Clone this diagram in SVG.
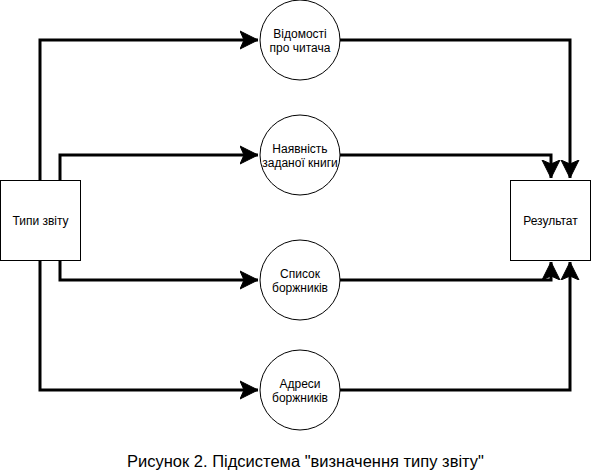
<svg xmlns="http://www.w3.org/2000/svg" width="591" height="471" viewBox="0 0 591 471">
<style>
.n{fill:#fff;stroke:#000;stroke-width:1}
.t{font-family:"Liberation Sans",Arial,sans-serif;font-size:12px;fill:#000;text-anchor:middle}
.c{fill:none;stroke:#000;stroke-width:3;stroke-linejoin:miter}
.cap{font-family:"Liberation Sans",Arial,sans-serif;font-size:16.5px;fill:#000;text-anchor:middle}
</style>
<defs>
<marker id="a" markerUnits="userSpaceOnUse" markerWidth="20" markerHeight="20" viewBox="0 0 20 20" refX="18" refY="10" orient="auto">
<path d="M0,1 L18,10 L0,19 L4,10 Z" fill="#000" stroke="#000" stroke-width="1"/>
</marker>
</defs>
<rect width="591" height="471" fill="#fff"/>
<g id="connectors">
<path class="c" d="M40,180 V40 H258" marker-end="url(#a)"/>
<path class="c" d="M60,180 V155 H258" marker-end="url(#a)"/>
<path class="c" d="M60,260 V280 H258" marker-end="url(#a)"/>
<path class="c" d="M40,260 V390 H258" marker-end="url(#a)"/>
<path class="c" d="M340,40 H570 V178" marker-end="url(#a)"/>
<path class="c" d="M340,155 H551 V178" marker-end="url(#a)"/>
<path class="c" d="M340,280 H551 V262" marker-end="url(#a)"/>
<path class="c" d="M340,390 H570 V262" marker-end="url(#a)"/>
</g>
<g id="types">
<rect class="n" x="0.5" y="180.5" width="80" height="80"/>
<text class="t" x="40.5" y="224.5">Типи звіту</text>
</g>
<g id="result">
<rect class="n" x="510.5" y="180.5" width="80" height="80"/>
<text class="t" x="550.5" y="224.5">Результат</text>
</g>
<g id="reader">
<circle class="n" cx="300" cy="40" r="40"/>
<text class="t" x="300" y="37.5">Відомості</text>
<text class="t" x="300" y="52">про читача</text>
</g>
<g id="book">
<circle class="n" cx="300" cy="155" r="40"/>
<text class="t" x="300" y="152.5">Наявність</text>
<text class="t" x="300" y="167">заданої книги</text>
</g>
<g id="debtors">
<circle class="n" cx="300" cy="280" r="40"/>
<text class="t" x="300" y="277.5">Список</text>
<text class="t" x="300" y="292">боржників</text>
</g>
<g id="addresses">
<circle class="n" cx="300" cy="390" r="40"/>
<text class="t" x="300" y="387.5">Адреси</text>
<text class="t" x="300" y="402">боржників</text>
</g>
<text class="cap" x="305.5" y="467">Рисунок 2. Підсистема "визначення типу звіту"</text>
</svg>
